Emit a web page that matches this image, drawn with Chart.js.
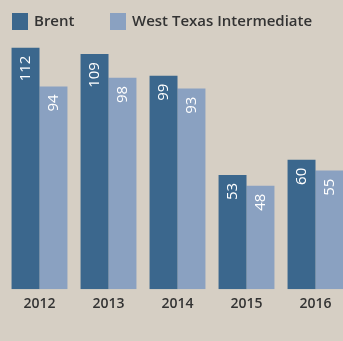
<!DOCTYPE html>
<html>
<head>
<meta charset="utf-8">
<script src="https://cdn.jsdelivr.net/npm/chart.js@4.4.1/dist/chart.umd.min.js"></script>
<style>
  html, body { margin: 0; padding: 0; background: #d6cfc4; overflow: hidden; }
  #wrap { width: 343px; height: 341px; overflow: hidden; position: relative; }
  #wrap div { width: 351px; height: 341px; }
</style>
</head>
<body>
<div id="wrap"><div><canvas id="oil_canvas"></canvas></div></div>
<script>
var years = ['2012', '2013', '2014', '2015', '2016'];
var brent = [112, 109, 99, 53, 60];
var wti = [94, 98, 93, 48, 55];

var BG = '#d6cfc4';
var TEXT = '#333333';
var FONT = '"Open Sans", "Liberation Sans", sans-serif';

// beige page fill behind the chart
var bgPlugin = {
  id: 'bg',
  beforeDraw: function(chart) {
    var c = chart.ctx;
    c.save();
    c.fillStyle = BG;
    c.fillRect(0, 0, chart.width, chart.height);
    c.restore();
  }
};

// legend row at the top: square swatch + name
var keyPlugin = {
  id: 'key',
  afterDraw: function(chart) {
    var c = chart.ctx;
    var xs = [12, 110];
    c.save();
    chart.data.datasets.forEach(function(ds, i) {
      c.fillStyle = ds.backgroundColor;
      c.fillRect(xs[i], 13, 16, 17);
      c.fillStyle = TEXT;
      c.font = '600 15px ' + FONT;
      c.textBaseline = 'middle';
      c.textAlign = 'left';
      c.fillText(ds.label, xs[i] + 22, 22);
    });
    c.restore();
  }
};

// rotated white numbers inside each bar, near the top
var valuePlugin = {
  id: 'values',
  afterDatasetsDraw: function(chart) {
    var c = chart.ctx;
    c.save();
    c.fillStyle = '#ffffff';
    c.font = '15px ' + FONT;
    c.textAlign = 'right';
    c.textBaseline = 'middle';
    chart.data.datasets.forEach(function(ds, i) {
      chart.getDatasetMeta(i).data.forEach(function(bar, j) {
        c.save();
        c.translate(bar.x, bar.y + 8);
        c.rotate(-Math.PI / 2);
        c.fillText(String(ds.data[j]), 0, 0);
        c.restore();
      });
    });
    c.restore();
  }
};

var chart = new Chart(document.getElementById('oil_canvas'), {
  type: 'bar',
  data: {
    labels: years,
    datasets: [
      { label: 'Brent', data: brent, backgroundColor: '#3b678d' },
      { label: 'West Texas Intermediate', data: wti, backgroundColor: '#8aa1c1' }
    ]
  },
  options: {
    responsive: true,
    maintainAspectRatio: false,
    animation: false,
    layout: { padding: { top: 39, left: 5, right: 1, bottom: 23 } },
    datasets: { bar: { categoryPercentage: 0.81, barPercentage: 1.0 } },
    plugins: {
      legend: { display: false },
      tooltip: { enabled: false }
    },
    scales: {
      x: {
        grid: { display: false, drawTicks: false, tickLength: 0 },
        border: { display: false },
        ticks: { color: TEXT, padding: 6, font: { family: FONT, size: 14, weight: '600' } }
      },
      y: {
        display: false,
        min: 0,
        max: 116
      }
    }
  },
  plugins: [bgPlugin, keyPlugin, valuePlugin]
});
</script>
</body>
</html>
